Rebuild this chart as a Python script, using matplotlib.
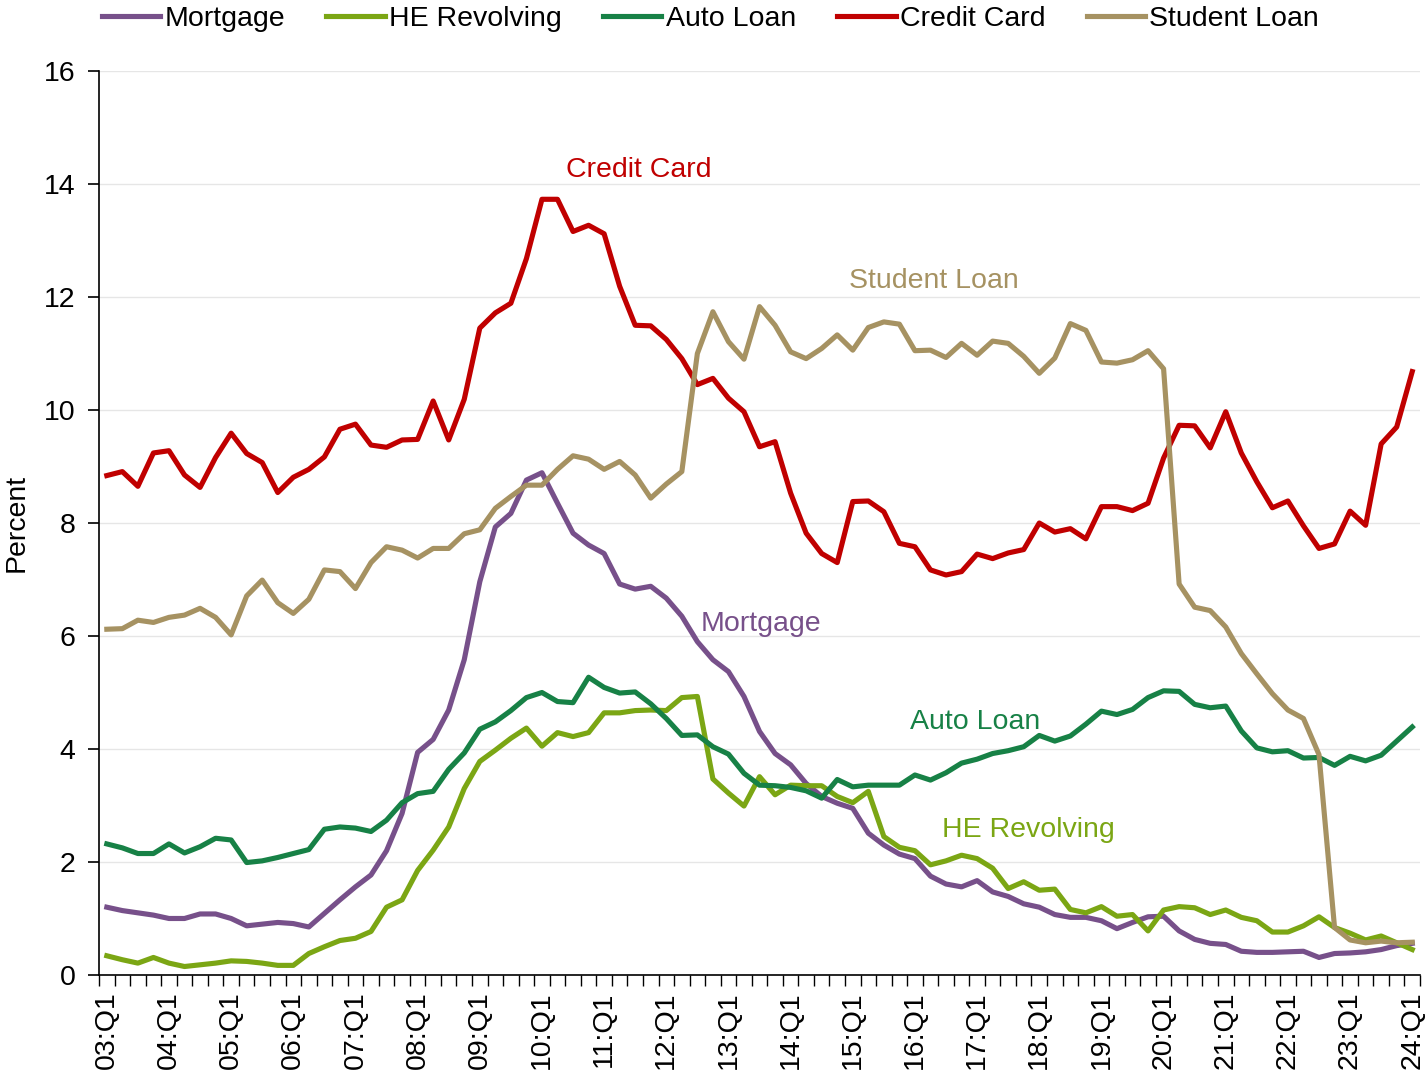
import numpy as np
import matplotlib
matplotlib.use('Agg')
import matplotlib.pyplot as plt
from matplotlib.ticker import FixedLocator, NullFormatter

plt.rcParams['font.family'] = ['Liberation Sans', 'DejaVu Sans']

# quarters 03:Q1 .. 24:Q1
quarters = [f"{y:02d}:Q{q}" for y in range(3, 25) for q in range(1, 5)][:85]

mortgage = [1.20, 1.14, 1.10, 1.06, 1.00, 1.00, 1.08, 1.08, 1.00, 0.87, 0.90, 0.93, 0.91, 0.85, 1.09, 1.33,
            1.56, 1.77, 2.20, 2.86, 3.94, 4.17, 4.69, 5.58, 6.96, 7.93, 8.17, 8.76, 8.89, 8.35, 7.82, 7.61,
            7.46, 6.92, 6.83, 6.88, 6.67, 6.35, 5.90, 5.58, 5.37, 4.93, 4.31, 3.92, 3.72, 3.39, 3.16, 3.04,
            2.95, 2.51, 2.30, 2.14, 2.06, 1.75, 1.61, 1.56, 1.67, 1.47, 1.39, 1.26, 1.20, 1.07, 1.02, 1.02,
            0.96, 0.82, 0.93, 1.03, 1.04, 0.78, 0.63, 0.56, 0.54, 0.42, 0.40, 0.40, 0.41, 0.42, 0.31, 0.38,
            0.39, 0.41, 0.45, 0.52, 0.56]

he_revolving = [0.34, 0.27, 0.21, 0.31, 0.21, 0.15, 0.18, 0.21, 0.25, 0.24, 0.21, 0.17, 0.17, 0.38, 0.50, 0.61,
                0.65, 0.77, 1.20, 1.33, 1.85, 2.21, 2.62, 3.30, 3.78, 3.98, 4.19, 4.37, 4.05, 4.29, 4.22, 4.29,
                4.64, 4.64, 4.68, 4.69, 4.68, 4.91, 4.93, 3.47, 3.22, 2.99, 3.51, 3.19, 3.36, 3.35, 3.35, 3.16,
                3.05, 3.25, 2.45, 2.26, 2.20, 1.95, 2.02, 2.12, 2.06, 1.89, 1.53, 1.65, 1.50, 1.52, 1.16, 1.10,
                1.21, 1.04, 1.07, 0.78, 1.15, 1.21, 1.19, 1.07, 1.15, 1.02, 0.96, 0.76, 0.76, 0.87, 1.03, 0.84,
                0.74, 0.62, 0.69, 0.57, 0.45]

auto_loan = [2.32, 2.25, 2.15, 2.15, 2.32, 2.16, 2.27, 2.42, 2.39, 1.99, 2.02, 2.08, 2.15, 2.22, 2.58, 2.62,
             2.60, 2.54, 2.74, 3.05, 3.21, 3.25, 3.64, 3.93, 4.35, 4.48, 4.68, 4.91, 5.00, 4.84, 4.82, 5.27,
             5.09, 4.99, 5.01, 4.80, 4.54, 4.24, 4.25, 4.04, 3.91, 3.57, 3.36, 3.35, 3.32, 3.26, 3.13, 3.46,
             3.33, 3.36, 3.36, 3.36, 3.54, 3.45, 3.58, 3.75, 3.82, 3.92, 3.97, 4.04, 4.24, 4.14, 4.23, 4.44,
             4.67, 4.61, 4.70, 4.91, 5.03, 5.02, 4.79, 4.73, 4.76, 4.32, 4.02, 3.95, 3.97, 3.84, 3.85, 3.71,
             3.87, 3.79, 3.89, 4.14, 4.39]

credit_card = [8.84, 8.91, 8.65, 9.24, 9.28, 8.85, 8.63, 9.16, 9.59, 9.23, 9.07, 8.54, 8.81, 8.95, 9.17, 9.66,
               9.75, 9.38, 9.34, 9.47, 9.48, 10.16, 9.47, 10.19, 11.45, 11.72, 11.89, 12.68, 13.73, 13.73, 13.16, 13.27,
               13.12, 12.19, 11.50, 11.49, 11.25, 10.91, 10.45, 10.56, 10.21, 9.97, 9.35, 9.44, 8.53, 7.82, 7.46, 7.30,
               8.38, 8.39, 8.20, 7.64, 7.58, 7.17, 7.08, 7.14, 7.45, 7.37, 7.47, 7.53, 8.00, 7.84, 7.90, 7.72,
               8.29, 8.29, 8.22, 8.35, 9.15, 9.73, 9.72, 9.33, 9.97, 9.24, 8.73, 8.27, 8.39, 7.95, 7.55, 7.63,
               8.21, 7.96, 9.40, 9.70, 10.68]

student_loan = [6.12, 6.13, 6.28, 6.24, 6.33, 6.37, 6.49, 6.33, 6.02, 6.71, 6.99, 6.59, 6.40, 6.65, 7.17, 7.14,
                6.84, 7.30, 7.58, 7.52, 7.38, 7.55, 7.55, 7.81, 7.88, 8.26, 8.47, 8.67, 8.67, 8.95, 9.19, 9.13,
                8.95, 9.09, 8.85, 8.44, 8.69, 8.91, 11.00, 11.74, 11.21, 10.90, 11.83, 11.50, 11.03, 10.91, 11.09, 11.33,
                11.06, 11.46, 11.56, 11.52, 11.05, 11.06, 10.93, 11.18, 10.97, 11.22, 11.18, 10.95, 10.65, 10.92, 11.53, 11.41,
                10.85, 10.83, 10.89, 11.05, 10.73, 6.92, 6.51, 6.45, 6.16, 5.69, 5.33, 4.98, 4.69, 4.54, 3.90, 0.84,
                0.62, 0.57, 0.60, 0.57, 0.58]

series = [
    ('Mortgage', mortgage, '#77508A'),
    ('HE Revolving', he_revolving, '#7BA614'),
    ('Auto Loan', auto_loan, '#178146'),
    ('Credit Card', credit_card, '#C00000'),
    ('Student Loan', student_loan, '#A69262'),
]

# inline label positions (quarter index, value)
label_pos = {
    'Credit Card': (34.2, 14.25),
    'Student Loan': (53.2, 12.28),
    'Mortgage': (42.1, 6.22),
    'Auto Loan': (55.9, 4.48),
    'HE Revolving': (59.3, 2.56),
}

fs = 20.5

fig = plt.figure(figsize=(14.25, 10.7), dpi=100)
ax = fig.add_axes([0.0695, 0.0888, 0.9270, 0.8448])

x = np.arange(len(quarters))
for name, vals, col in series:
    ax.plot(x, vals, color=col, lw=3.7, label=name)
    lx, ly = label_pos[name]
    ax.text(lx, ly, name, color=col, fontsize=fs, ha='center', va='center')

ax.set_xlim(-0.5, len(quarters) - 0.5)
ax.set_ylim(0, 16)
ax.set_yticks(np.arange(0, 17, 2))
ax.tick_params(axis='y', labelsize=fs, length=8, width=1.2, direction='out', pad=9)

major = x[::4]
ax.xaxis.set_major_locator(FixedLocator(major))
ax.set_xticklabels([quarters[i] for i in major], rotation=90, fontsize=fs)
ax.xaxis.set_minor_locator(FixedLocator(np.arange(-0.5, len(quarters), 1)))
ax.xaxis.set_minor_formatter(NullFormatter())
ax.tick_params(axis='x', which='major', length=0, pad=12)
ax.tick_params(axis='x', which='minor', length=8, width=1.0, direction='out')

ax.grid(axis='y', color='#e6e6e6', lw=1)
ax.set_axisbelow(True)
for s in ['top', 'right']:
    ax.spines[s].set_visible(False)
for s in ['left', 'bottom']:
    ax.spines[s].set_linewidth(1.2)
    ax.spines[s].set_color('black')

ax.set_ylabel('Percent', fontsize=fs, labelpad=10)

fig.legend(loc='upper center', bbox_to_anchor=(0.4985, 1.018), ncol=5, frameon=False,
           fontsize=fs, handlelength=2.05, handletextpad=0.15, columnspacing=1.45)

fig.savefig('out.png', dpi=100)
